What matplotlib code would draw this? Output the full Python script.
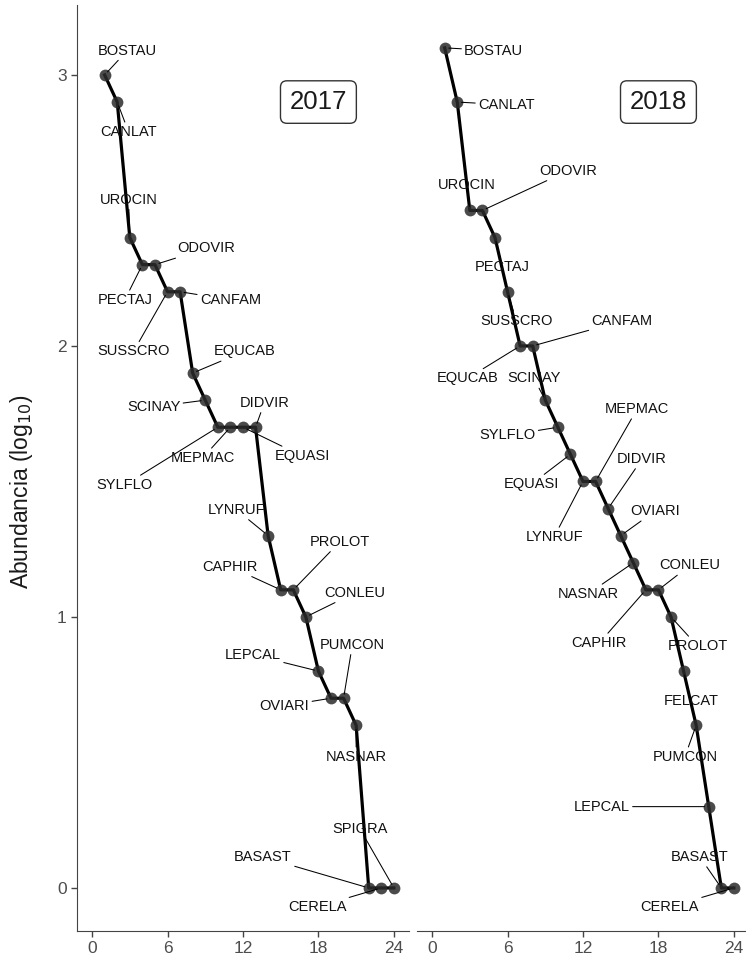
import matplotlib
matplotlib.use("Agg")
import matplotlib.pyplot as plt

plt.rcParams['font.family'] = ['Liberation Sans', 'DejaVu Sans']

# Rank of each species (1 = most abundant)
rank = list(range(1, 25))

# 2017 survey: species codes and log10 abundance
species_2017 = ['BOSTAU', 'CANLAT', 'UROCIN', 'PECTAJ', 'ODOVIR', 'SUSSCRO', 'CANFAM', 'EQUCAB',
                'SCINAY', 'SYLFLO', 'MEPMAC', 'EQUASI', 'DIDVIR', 'LYNRUF', 'CAPHIR', 'PROLOT',
                'CONLEU', 'LEPCAL', 'OVIARI', 'PUMCON', 'NASNAR', 'BASAST', 'CERELA', 'SPIGRA']
abund_2017 = [3.0, 2.9, 2.4, 2.3, 2.3, 2.2, 2.2, 1.9, 1.8, 1.7, 1.7, 1.7,
              1.7, 1.3, 1.1, 1.1, 1.0, 0.8, 0.7, 0.7, 0.6, 0.0, 0.0, 0.0]

# 2018 survey
species_2018 = ['BOSTAU', 'CANLAT', 'UROCIN', 'ODOVIR', 'PECTAJ', 'SUSSCRO', 'EQUCAB', 'CANFAM',
                'SCINAY', 'SYLFLO', 'EQUASI', 'LYNRUF', 'MEPMAC', 'DIDVIR', 'OVIARI', 'NASNAR',
                'CAPHIR', 'CONLEU', 'PROLOT', 'FELCAT', 'PUMCON', 'LEPCAL', 'BASAST', 'CERELA']
abund_2018 = [3.1, 2.9, 2.5, 2.5, 2.4, 2.2, 2.0, 2.0, 1.8, 1.7, 1.6, 1.5,
              1.5, 1.4, 1.3, 1.2, 1.1, 1.1, 1.0, 0.8, 0.6, 0.3, 0.0, 0.0]

# Where each species label sits (repelled away from the curve)
lab_x_2017 = [2.8, 2.9, 2.9, 2.6, 9.1, 3.3, 11.0, 12.1, 4.9, 2.6, 8.8, 16.7,
              13.7, 11.5, 11.0, 19.7, 20.9, 12.8, 15.3, 20.7, 21.0, 13.6, 17.9, 21.3]
lab_y_2017 = [3.09, 2.79, 2.54, 2.17, 2.36, 1.98, 2.17, 1.98, 1.775, 1.487, 1.587, 1.594,
              1.79, 1.395, 1.185, 1.277, 1.089, 0.86, 0.672, 0.897, 0.484, 0.114, -0.07, 0.218]

lab_x_2018 = [4.9, 5.9, 2.8, 10.8, 5.6, 6.7, 2.8, 15.1, 8.1, 6.0, 7.9, 9.7,
              16.3, 16.7, 17.7, 12.4, 13.3, 20.5, 21.1, 20.6, 20.1, 13.5, 21.3, 18.9]
lab_y_2018 = [3.09, 2.89, 2.594, 2.646, 2.29, 2.092, 1.88, 2.092, 1.88, 1.67, 1.49, 1.295,
              1.767, 1.583, 1.39, 1.085, 0.904, 1.19, 0.893, 0.69, 0.484, 0.30, 0.114, -0.07]

years = ['2017', '2018']
panels = [(species_2017, abund_2017, lab_x_2017, lab_y_2017),
          (species_2018, abund_2018, lab_x_2018, lab_y_2018)]

fig = plt.figure(figsize=(7.46, 9.69), dpi=100)
ax_left = fig.add_axes([0.1032, 0.0392, 0.445, 0.9556])
ax_right = fig.add_axes([0.559, 0.0392, 0.445, 0.9556])
axes = [ax_left, ax_right]

axis_col = '#444444'

for ax, year, (names, vals, lx, ly) in zip(axes, years, panels):
    # rank-abundance curve
    ax.plot(rank, vals, color='black', lw=2.3, zorder=3)
    ax.plot(rank, vals, 'o', color='#2b2b2b', alpha=0.85, markersize=8.5,
            markeredgewidth=0, zorder=4)

    # species labels with leader segments
    for name, xr, yv, tx, ty in zip(names, rank, vals, lx, ly):
        ax.annotate(name, xy=(xr, yv), xytext=(tx, ty), ha='center', va='center',
                    fontsize=10.5, color='#111111', zorder=5,
                    arrowprops=dict(arrowstyle='-', color='black', lw=0.75,
                                    shrinkA=0, shrinkB=3))

    # year tag
    ax.text(18, 2.9, year, ha='center', va='center', fontsize=18.5, color='#1a1a1a',
            bbox=dict(boxstyle='round,pad=0.36,rounding_size=0.25', fc='white',
                      ec='#333333', lw=1))

    ax.set_xlim(-1.2, 25.2)
    ax.set_ylim(-0.159, 3.258)
    ax.set_xticks([0, 6, 12, 18, 24])
    ax.set_yticks([0, 1, 2, 3])
    for side in ['top', 'right']:
        ax.spines[side].set_visible(False)
    ax.spines['bottom'].set_color(axis_col)
    ax.spines['left'].set_color(axis_col)
    ax.tick_params(colors=axis_col, labelcolor='#4d4d4d', labelsize=12.5,
                   length=4, width=1)

# shared y axis: the right panel keeps no axis line or ticks
ax_right.spines['left'].set_visible(False)
ax_right.tick_params(axis='y', left=False, labelleft=False)

ax_left.set_ylabel('Abundancia (log$_{10}$)', fontsize=16.5, color='#1a1a1a')
ax_left.yaxis.set_label_coords(-0.125, 0.474)

fig.savefig('out.png', dpi=100)
